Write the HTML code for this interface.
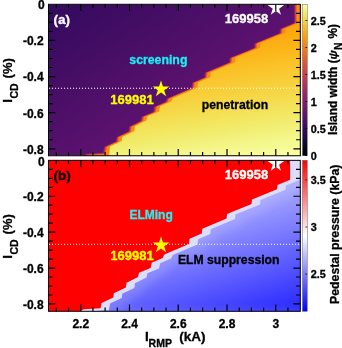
<!DOCTYPE html>
<html><head><meta charset="utf-8"><title>fig</title>
<style>html,body{margin:0;padding:0;background:#fff;}body{width:342px;height:348px;overflow:hidden;position:relative;font-family:"Liberation Sans",sans-serif;}text{stroke-width:0.3px;}</style></head>
<body>
<svg width="342" height="348" viewBox="0 0 342 348" style="position:absolute;left:0;top:0;will-change:transform" font-family="Liberation Sans, sans-serif" font-weight="bold">
<defs>
<clipPath id="ca"><rect x="48.50" y="4.30" width="251.80" height="151.45"/></clipPath>
<clipPath id="cb"><rect x="48.50" y="160.35" width="251.80" height="150.95"/></clipPath>
<linearGradient id="gp" gradientUnits="userSpaceOnUse" x1="48" y1="4" x2="130" y2="130"><stop offset="0" stop-color="#320a5e"/><stop offset="1" stop-color="#5c126e"/></linearGradient>
<linearGradient id="gy" gradientUnits="userSpaceOnUse" x1="294.04" y1="-0.39" x2="317.76" y2="151.76"><stop offset="0.000" stop-color="#fa9207"/><stop offset="0.100" stop-color="#fb9d07"/><stop offset="0.200" stop-color="#fca80d"/><stop offset="0.300" stop-color="#fcb418"/><stop offset="0.400" stop-color="#fac228"/><stop offset="0.500" stop-color="#f8cd37"/><stop offset="0.600" stop-color="#f5d949"/><stop offset="0.700" stop-color="#f3e55d"/><stop offset="0.800" stop-color="#f1ef75"/><stop offset="0.900" stop-color="#f4f88e"/><stop offset="1.000" stop-color="#fcffa4"/></linearGradient>
<linearGradient id="gb" gradientUnits="userSpaceOnUse" x1="286.1" y1="156.5" x2="336.5" y2="317.8"><stop offset="0" stop-color="#c8c8ff"/><stop offset="1" stop-color="#1212ff"/></linearGradient>
<linearGradient id="cba" x1="0" y1="0" x2="0" y2="1"><stop offset="0.000" stop-color="#fcffa4"/><stop offset="0.050" stop-color="#f1ef75"/><stop offset="0.100" stop-color="#f6d746"/><stop offset="0.150" stop-color="#fbbe23"/><stop offset="0.200" stop-color="#fca50a"/><stop offset="0.250" stop-color="#f98e09"/><stop offset="0.300" stop-color="#f37819"/><stop offset="0.350" stop-color="#ea632a"/><stop offset="0.400" stop-color="#dd513a"/><stop offset="0.450" stop-color="#cc4248"/><stop offset="0.500" stop-color="#bc3754"/><stop offset="0.550" stop-color="#a82e5f"/><stop offset="0.600" stop-color="#932667"/><stop offset="0.650" stop-color="#7f1e6c"/><stop offset="0.700" stop-color="#6a176e"/><stop offset="0.750" stop-color="#57106e"/><stop offset="0.800" stop-color="#420a68"/><stop offset="0.850" stop-color="#2b0b57"/><stop offset="0.900" stop-color="#160b39"/><stop offset="0.950" stop-color="#07051b"/><stop offset="1.000" stop-color="#000004"/></linearGradient>
<linearGradient id="cbb" x1="0" y1="0" x2="0" y2="1"><stop offset="0" stop-color="#ff0000"/><stop offset="0.5" stop-color="#ffffff"/><stop offset="1" stop-color="#0000ff"/></linearGradient>
<filter id="bl1" x="-5%" y="-5%" width="110%" height="110%"><feGaussianBlur stdDeviation="0.5"/></filter>
<filter id="bl3" x="-10%" y="-10%" width="120%" height="120%"><feGaussianBlur stdDeviation="4"/></filter>
</defs>
<rect width="342" height="348" fill="#fff"/>
<g clip-path="url(#ca)">
<rect x="48.50" y="4.30" width="251.80" height="151.45" fill="url(#gp)"/>
<polygon points="82.70,161.80 82.70,155.80 85.90,153.70 102.90,152.70 104.00,147.00 115.70,141.50 116.20,137.30 128.30,131.50 128.90,126.70 140.40,121.00 141.40,116.70 153.00,112.00 154.10,106.70 165.10,102.00 166.70,98.60 191.40,88.10 192.00,82.80 204.20,77.60 204.70,72.80 229.00,62.60 229.40,57.90 254.00,48.10 254.40,43.40 279.40,33.20 279.90,29.00 294.00,23.07 294.00,4.50 294.00,-1.65 320.30,-1.65 320.30,161.30" fill="#84206b"/>
<polygon points="83.60,162.30 83.60,156.30 86.80,154.20 103.80,153.20 104.90,147.00 116.60,141.50 117.10,137.30 129.20,131.50 129.80,126.70 141.30,121.00 142.30,116.70 153.90,112.00 155.00,106.70 166.00,102.00 167.60,98.60 192.30,88.10 192.90,82.80 205.10,77.60 205.60,72.80 229.90,62.60 230.30,57.90 254.90,48.10 255.30,43.40 280.30,33.20 280.80,29.00 294.90,23.07 294.90,4.50 294.90,-1.65 320.30,-1.65 320.30,161.30" fill="#bc3754"/>
<polygon points="84.50,162.80 84.50,156.80 87.70,154.70 104.70,153.70 105.80,147.00 117.50,141.50 118.00,137.30 130.10,131.50 130.70,126.70 142.20,121.00 143.20,116.70 154.80,112.00 155.90,106.70 166.90,102.00 168.50,98.60 193.20,88.10 193.80,82.80 206.00,77.60 206.50,72.80 230.80,62.60 231.20,57.90 255.80,48.10 256.20,43.40 281.20,33.20 281.70,29.00 295.80,23.07 295.80,4.50 295.80,-1.65 320.30,-1.65 320.30,161.30" fill="#e55c30"/>
<polygon points="85.40,163.30 85.40,157.30 88.60,155.20 105.60,154.20 106.70,147.00 118.40,141.50 118.90,137.30 131.00,131.50 131.60,126.70 143.10,121.00 144.10,116.70 155.70,112.00 156.80,106.70 167.80,102.00 169.40,98.60 194.10,88.10 194.70,82.80 206.90,77.60 207.40,72.80 231.70,62.60 232.10,57.90 256.70,48.10 257.10,43.40 282.10,33.20 282.60,29.00 296.70,23.07 296.70,4.50 296.70,-1.65 320.30,-1.65 320.30,161.30" fill="#f98b0b"/>
<polygon points="88.70,166.90 88.70,160.90 91.90,158.80 108.90,157.80 110.00,146.60 121.70,141.10 122.20,136.90 134.30,131.10 134.90,126.30 146.40,120.60 147.40,116.30 159.00,111.60 160.10,106.30 171.10,101.60 172.70,98.20 197.40,87.70 198.00,82.40 210.20,77.20 210.70,72.40 235.00,62.20 235.40,57.50 260.00,47.70 260.40,43.00 285.40,32.80 285.90,28.60 298.50,23.30 320.30,14.13 320.30,161.30" fill="url(#gy)" filter="url(#bl1)"/>
</g>
<g clip-path="url(#cb)">
<rect x="48.50" y="160.35" width="251.80" height="150.95" fill="#ff0000"/>
<polygon points="80.30,317.30 80.30,311.30 83.50,309.20 100.50,308.20 101.60,303.00 113.30,297.50 113.80,293.30 125.90,287.50 126.50,282.70 138.00,277.00 139.00,272.70 150.60,268.00 151.70,262.70 162.70,258.00 164.30,254.60 189.00,244.10 189.60,238.80 201.80,233.60 202.30,228.80 226.60,218.60 227.00,213.90 251.60,204.10 252.00,199.40 277.00,189.20 277.50,185.00 290.10,179.70 290.10,160.50 290.10,154.35 320.30,154.35 320.30,317.30" fill="#dcdcfb"/>
<clipPath id="cbl"><polygon points="88.80,319.30 88.80,313.30 92.00,311.20 109.00,310.20 110.10,303.50 121.80,298.00 122.30,293.80 134.40,288.00 135.00,283.20 146.50,277.50 147.50,273.20 159.10,268.50 160.20,263.20 171.20,258.50 172.80,255.10 197.50,244.60 198.10,239.30 210.30,234.10 210.80,229.30 235.10,219.10 235.50,214.40 260.10,204.60 260.50,199.90 285.50,189.70 286.00,185.50 298.60,180.20 320.30,171.07 320.30,317.30"/></clipPath>
<polygon points="88.80,319.30 88.80,313.30 92.00,311.20 109.00,310.20 110.10,303.50 121.80,298.00 122.30,293.80 134.40,288.00 135.00,283.20 146.50,277.50 147.50,273.20 159.10,268.50 160.20,263.20 171.20,258.50 172.80,255.10 197.50,244.60 198.10,239.30 210.30,234.10 210.80,229.30 235.10,219.10 235.50,214.40 260.10,204.60 260.50,199.90 285.50,189.70 286.00,185.50 298.60,180.20 320.30,171.07 320.30,317.30" fill="url(#gb)"/>
<g clip-path="url(#cbl)"><polygon points="88.80,319.30 88.80,313.30 92.00,311.20 109.00,310.20 110.10,303.50 121.80,298.00 122.30,293.80 134.40,288.00 135.00,283.20 146.50,277.50 147.50,273.20 159.10,268.50 160.20,263.20 171.20,258.50 172.80,255.10 197.50,244.60 198.10,239.30 210.30,234.10 210.80,229.30 235.10,219.10 235.50,214.40 260.10,204.60 260.50,199.90 285.50,189.70 286.00,185.50 298.60,180.20 320.30,171.07 320.30,317.30" fill="none" stroke="#d0d0ff" stroke-width="16" opacity="0.2" filter="url(#bl3)"/></g>
</g>
<line x1="49.00" y1="88.30" x2="300.30" y2="88.30" stroke="#fff" stroke-width="1.1" stroke-dasharray="1.1 1.9"/>
<line x1="49.00" y1="244.30" x2="300.30" y2="244.30" stroke="#fff" stroke-width="1.1" stroke-dasharray="1.1 1.9"/>
<polygon points="161.00,80.40 162.95,86.41 169.27,86.41 164.16,90.13 166.11,96.14 161.00,92.42 155.89,96.14 157.84,90.13 152.73,86.41 159.05,86.41" fill="#ffff00"/>
<polygon points="161.00,236.40 162.95,242.41 169.27,242.41 164.16,246.13 166.11,252.14 161.00,248.42 155.89,252.14 157.84,246.13 152.73,242.41 159.05,242.41" fill="#ffff00"/>
<g clip-path="url(#ca)"><polygon points="275.90,-1.00 277.85,5.01 284.17,5.01 279.06,8.73 281.01,14.74 275.90,11.02 270.79,14.74 272.74,8.73 267.63,5.01 273.95,5.01" fill="#ffffff"/></g>
<g clip-path="url(#cb)"><polygon points="275.90,155.00 277.85,161.01 284.17,161.01 279.06,164.73 281.01,170.74 275.90,167.02 270.79,170.74 272.74,164.73 267.63,161.01 273.95,161.01" fill="#ffffff"/></g>
<path d="M56.35 155.75v-3.80 M56.35 4.30v3.80 M68.54 155.75v-3.80 M68.54 4.30v3.80 M80.73 155.75v-6.80 M80.73 4.30v6.80 M92.92 155.75v-3.80 M92.92 4.30v3.80 M105.11 155.75v-3.80 M105.11 4.30v3.80 M117.30 155.75v-3.80 M117.30 4.30v3.80 M129.49 155.75v-6.80 M129.49 4.30v6.80 M141.68 155.75v-3.80 M141.68 4.30v3.80 M153.87 155.75v-3.80 M153.87 4.30v3.80 M166.06 155.75v-3.80 M166.06 4.30v3.80 M178.25 155.75v-6.80 M178.25 4.30v6.80 M190.44 155.75v-3.80 M190.44 4.30v3.80 M202.63 155.75v-3.80 M202.63 4.30v3.80 M214.82 155.75v-3.80 M214.82 4.30v3.80 M227.01 155.75v-6.80 M227.01 4.30v6.80 M239.20 155.75v-3.80 M239.20 4.30v3.80 M251.39 155.75v-3.80 M251.39 4.30v3.80 M263.58 155.75v-3.80 M263.58 4.30v3.80 M275.77 155.75v-6.80 M275.77 4.30v6.80 M287.96 155.75v-3.80 M287.96 4.30v3.80 M48.50 13.33h4.30 M300.30 13.33h-4.30 M48.50 22.36h4.30 M300.30 22.36h-4.30 M48.50 31.39h4.30 M300.30 31.39h-4.30 M48.50 40.42h6.90 M300.30 40.42h-6.90 M48.50 49.45h4.30 M300.30 49.45h-4.30 M48.50 58.48h4.30 M300.30 58.48h-4.30 M48.50 67.51h4.30 M300.30 67.51h-4.30 M48.50 76.54h6.90 M300.30 76.54h-6.90 M48.50 85.57h4.30 M300.30 85.57h-4.30 M48.50 94.60h4.30 M300.30 94.60h-4.30 M48.50 103.63h4.30 M300.30 103.63h-4.30 M48.50 112.66h6.90 M300.30 112.66h-6.90 M48.50 121.69h4.30 M300.30 121.69h-4.30 M48.50 130.72h4.30 M300.30 130.72h-4.30 M48.50 139.75h4.30 M300.30 139.75h-4.30 M48.50 148.78h6.90 M300.30 148.78h-6.90 M56.35 311.30v-3.80 M56.35 160.35v3.80 M68.54 311.30v-3.80 M68.54 160.35v3.80 M80.73 311.30v-6.80 M80.73 160.35v6.80 M92.92 311.30v-3.80 M92.92 160.35v3.80 M105.11 311.30v-3.80 M105.11 160.35v3.80 M117.30 311.30v-3.80 M117.30 160.35v3.80 M129.49 311.30v-6.80 M129.49 160.35v6.80 M141.68 311.30v-3.80 M141.68 160.35v3.80 M153.87 311.30v-3.80 M153.87 160.35v3.80 M166.06 311.30v-3.80 M166.06 160.35v3.80 M178.25 311.30v-6.80 M178.25 160.35v6.80 M190.44 311.30v-3.80 M190.44 160.35v3.80 M202.63 311.30v-3.80 M202.63 160.35v3.80 M214.82 311.30v-3.80 M214.82 160.35v3.80 M227.01 311.30v-6.80 M227.01 160.35v6.80 M239.20 311.30v-3.80 M239.20 160.35v3.80 M251.39 311.30v-3.80 M251.39 160.35v3.80 M263.58 311.30v-3.80 M263.58 160.35v3.80 M275.77 311.30v-6.80 M275.77 160.35v6.80 M287.96 311.30v-3.80 M287.96 160.35v3.80 M48.50 169.32h4.30 M300.30 169.32h-4.30 M48.50 178.30h4.30 M300.30 178.30h-4.30 M48.50 187.28h4.30 M300.30 187.28h-4.30 M48.50 196.25h6.90 M300.30 196.25h-6.90 M48.50 205.22h4.30 M300.30 205.22h-4.30 M48.50 214.20h4.30 M300.30 214.20h-4.30 M48.50 223.17h4.30 M300.30 223.17h-4.30 M48.50 232.15h6.90 M300.30 232.15h-6.90 M48.50 241.12h4.30 M300.30 241.12h-4.30 M48.50 250.10h4.30 M300.30 250.10h-4.30 M48.50 259.07h4.30 M300.30 259.07h-4.30 M48.50 268.05h6.90 M300.30 268.05h-6.90 M48.50 277.02h4.30 M300.30 277.02h-4.30 M48.50 286.00h4.30 M300.30 286.00h-4.30 M48.50 294.98h4.30 M300.30 294.98h-4.30 M48.50 303.95h6.90 M300.30 303.95h-6.90" stroke="#000" stroke-width="1.2" fill="none"/>
<rect x="48.50" y="4.30" width="251.80" height="151.45" fill="none" stroke="#000" stroke-width="1"/>
<rect x="48.50" y="160.35" width="251.80" height="150.95" fill="none" stroke="#000" stroke-width="1"/>
<rect x="302.50" y="4.30" width="4.70" height="151.45" fill="url(#cba)"/>
<rect x="302.50" y="160.35" width="4.70" height="150.95" fill="url(#cbb)"/>
<rect x="302.50" y="4.30" width="4.70" height="151.45" fill="none" stroke="#444" stroke-width="0.4"/>
<rect x="302.50" y="160.35" width="4.70" height="150.95" fill="none" stroke="#444" stroke-width="0.4"/>
<text x="310.8" y="25.30" font-size="10.8" fill="#000" stroke="#000">2.5</text>
<text x="310.8" y="52.30" font-size="10.8" fill="#000" stroke="#000">2</text>
<text x="310.8" y="79.30" font-size="10.8" fill="#000" stroke="#000">1.5</text>
<text x="310.8" y="106.30" font-size="10.8" fill="#000" stroke="#000">1</text>
<text x="310.8" y="133.30" font-size="10.8" fill="#000" stroke="#000">0.5</text>
<text x="310.8" y="160.30" font-size="10.8" fill="#000" stroke="#000">0</text>
<text x="310.8" y="183.70" font-size="10.8" fill="#000" stroke="#000">3.5</text>
<text x="310.8" y="230.80" font-size="10.8" fill="#000" stroke="#000">3</text>
<text x="310.8" y="277.90" font-size="10.8" fill="#000" stroke="#000">2.5</text>
<path d="M307.20 20.50h-1.8 M307.20 47.50h-1.8 M307.20 74.50h-1.8 M307.20 101.50h-1.8 M307.20 128.50h-1.8 M307.20 155.50h-1.8 M307.20 179.90h-1.8 M307.20 227.00h-1.8 M307.20 274.10h-1.8" stroke="#000" stroke-width="0.8" fill="none"/>
<text x="44.8" y="8.90" font-size="12" text-anchor="end" fill="#000" stroke="#000">0</text>
<text x="44.8" y="165.85" font-size="12" text-anchor="end" fill="#000" stroke="#000">0</text>
<text x="43.6" y="45.32" font-size="12" text-anchor="end" fill="#000" stroke="#000">-0.2</text>
<text x="43.6" y="201.15" font-size="12" text-anchor="end" fill="#000" stroke="#000">-0.2</text>
<text x="43.6" y="81.44" font-size="12" text-anchor="end" fill="#000" stroke="#000">-0.4</text>
<text x="43.6" y="237.05" font-size="12" text-anchor="end" fill="#000" stroke="#000">-0.4</text>
<text x="43.6" y="117.56" font-size="12" text-anchor="end" fill="#000" stroke="#000">-0.6</text>
<text x="43.6" y="272.95" font-size="12" text-anchor="end" fill="#000" stroke="#000">-0.6</text>
<text x="43.6" y="153.68" font-size="12" text-anchor="end" fill="#000" stroke="#000">-0.8</text>
<text x="43.6" y="308.85" font-size="12" text-anchor="end" fill="#000" stroke="#000">-0.8</text>
<text x="80.73" y="328.2" font-size="12" text-anchor="middle" fill="#000" stroke="#000">2.2</text>
<text x="129.49" y="328.2" font-size="12" text-anchor="middle" fill="#000" stroke="#000">2.4</text>
<text x="178.25" y="328.2" font-size="12" text-anchor="middle" fill="#000" stroke="#000">2.6</text>
<text x="227.01" y="328.2" font-size="12" text-anchor="middle" fill="#000" stroke="#000">2.8</text>
<text x="275.77" y="328.2" font-size="12" text-anchor="middle" fill="#000" stroke="#000">3</text>
<text x="145" y="341.3" font-size="13.5" fill="#000" stroke="#000">I</text><text x="148.6" y="347.2" font-size="10.5" fill="#000" stroke="#000">RMP</text><text x="179.2" y="341.3" font-size="13.5" fill="#000" stroke="#000">(kA)</text>
<g stroke="#000" transform="translate(11.6 79.50) rotate(-90)" fill="#000"><text x="-23.2" y="0" font-size="13">I</text><text x="-19.1" y="6.6" font-size="10.5">CD</text><text x="1.1" y="0" font-size="13">(%)</text></g>
<g stroke="#000" transform="translate(11.6 235.50) rotate(-90)" fill="#000"><text x="-23.2" y="0" font-size="13">I</text><text x="-19.1" y="6.6" font-size="10.5">CD</text><text x="1.1" y="0" font-size="13">(%)</text></g>
<text transform="translate(336.8 79.6) rotate(-90)" font-size="11.85" text-anchor="middle" fill="#000" stroke="#000">Island width (<tspan font-style="italic">ψ</tspan><tspan font-size="10.5" dy="5.2" dx="0.3">N</tspan><tspan dy="-5.2" dx="0.5"> %)</tspan></text>
<text transform="translate(339.1 304) rotate(-90)" font-size="12.3" text-anchor="start" fill="#000" stroke="#000">Pedestal pressure (kPa)</text>
<text x="53.5" y="24.3" font-size="13.6" fill="#fff" stroke="#fff">(a)</text>
<text x="53.5" y="180.3" font-size="13.6" fill="#000" stroke="#000">(b)</text>
<text x="129.3" y="63.5" font-size="12.3" fill="#18f0f4" stroke="#18f0f4">screening</text>
<text x="201.8" y="108.5" font-size="12.2" fill="#000" stroke="#000">penetration</text>
<text x="110.3" y="104.2" font-size="13" fill="#ffff00" stroke="#ffff00">169981</text>
<text x="224.8" y="23.4" font-size="13" fill="#fff" stroke="#fff">169958</text>
<text x="129.4" y="219" font-size="12" fill="#28f0f0" stroke="#28f0f0">ELMing</text>
<text x="177.9" y="264.3" font-size="12.2" fill="#000" stroke="#000">ELM suppression</text>
<text x="110.3" y="260.0" font-size="13" fill="#ffff00" stroke="#ffff00">169981</text>
<text x="224.8" y="179.4" font-size="13" fill="#fff" stroke="#fff">169958</text>
</svg>
</body></html>
